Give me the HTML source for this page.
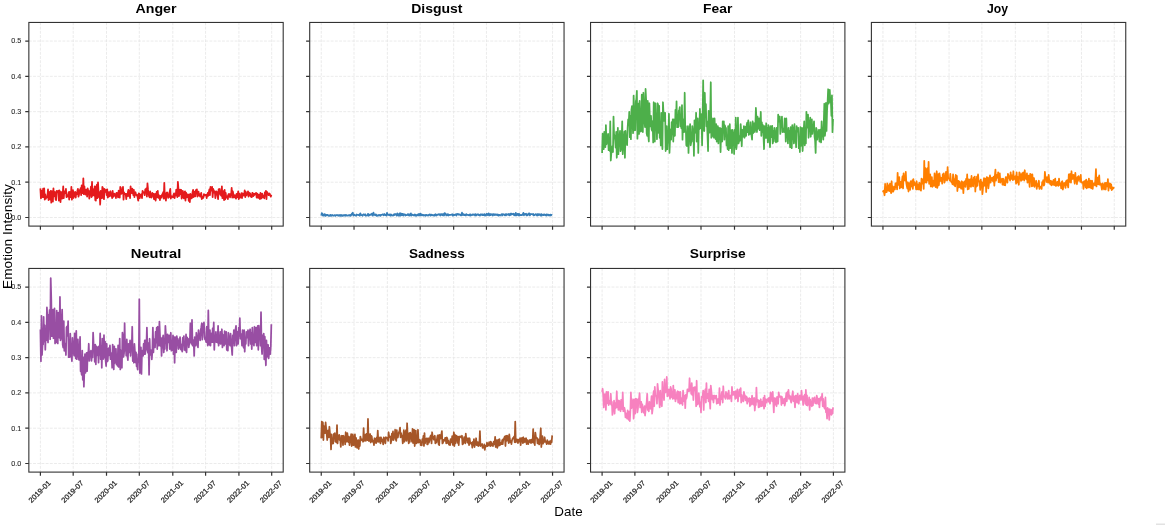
<!DOCTYPE html><html><head><meta charset="utf-8"><style>html,body{margin:0;padding:0;background:#fff;overflow:hidden;}svg{display:block;will-change:transform;}text{font-family:"Liberation Sans",sans-serif;}</style></head><body>
<svg width="1165" height="525" viewBox="0 0 1165 525">
<rect width="1165" height="525" fill="#fff"/>
<path d="M40.4 22.45V226.1M73.18 22.45V226.1M106.51 22.45V226.1M139.3 22.45V226.1M172.8 22.45V226.1M205.59 22.45V226.1M238.92 22.45V226.1M271.7 22.45V226.1M28.85 217.5H283.2M28.85 182.21H283.2M28.85 146.92H283.2M28.85 111.63H283.2M28.85 76.34H283.2M28.85 41.05H283.2" stroke="#e6e6e6" stroke-width="0.8" stroke-dasharray="2.9 1.3" fill="none"/>
<path d="M40.4 188.35 40.94 198.45 41.49 193.05 42.03 190.63 42.57 197.23 43.12 188.58 43.66 197.15 44.2 188.35 44.75 199.65 45.29 194.29 45.83 198.73 46.38 196.69 46.92 197.45 47.46 195.53 48.01 189.35 48.55 200.15 49.09 191.9 49.64 194.42 50.18 199.52 50.72 190.85 51.27 202.65 51.81 191.17 52.35 194.79 52.9 201.65 53.44 188.35 53.98 196.47 54.53 195.23 55.07 191.99 55.61 199.43 56.16 200.15 56.7 190.85 57.24 191.25 57.79 192.12 58.33 190.78 58.88 200.65 59.42 190.35 59.96 192.94 60.51 202.15 61.05 191.85 61.59 198.66 62.14 198.63 62.68 194.92 63.22 186.35 63.77 198.15 64.31 191.28 64.85 192.01 65.4 193.11 65.94 188.85 66.48 197.15 67.03 195.28 67.57 196.48 68.11 195.07 68.66 192.14 69.2 199.65 69.74 191.85 70.29 196.62 70.83 197.18 71.37 186.85 71.92 199.65 72.46 191.44 73 190.05 73.55 198.03 74.09 192.67 74.63 196.02 75.18 191.85 75.72 197.65 76.26 192.99 76.81 194.27 77.35 191.04 77.89 188.85 78.44 196.65 78.98 194.9 79.52 190.12 80.07 191.55 80.61 188.19 81.15 195.15 81.7 185.35 82.24 193.17 82.78 192.29 83.33 178.35 83.87 194.15 84.41 186.33 84.96 193.46 85.5 194.52 86.04 189.69 86.59 189.84 87.13 196.65 87.67 188.35 88.22 190.65 88.76 190.85 89.3 198.65 89.85 193.34 90.39 192.7 90.93 186.55 91.48 197.15 92.02 181.85 92.56 195.79 93.11 189.08 93.65 191.96 94.19 195.5 94.74 186.35 95.28 200.15 95.83 200.65 96.37 186.85 96.91 184.63 97.46 198.15 98 182.35 98.54 192.18 99.09 197.21 99.63 192.47 100.17 204.65 100.72 190.85 101.26 196.32 101.8 198.15 102.35 186.85 102.89 187.99 103.43 197.94 103.98 199.15 104.52 188.85 105.06 191.39 105.61 191.97 106.15 189.96 106.69 195.06 107.24 189.35 107.78 197.65 108.32 196.68 108.87 192.03 109.41 196.32 109.95 193.6 110.5 191.25 111.04 195.92 111.58 193.33 112.13 198.15 112.67 190.85 113.21 196.89 113.76 196.04 114.3 193.66 114.84 193.96 115.39 195.44 115.93 198.15 116.47 192.85 117.02 192.85 117.56 194.2 118.1 197.49 118.65 190.65 119.19 191.5 119.73 197.65 120.28 186.85 120.82 187.76 121.36 193.98 121.91 192.74 122.45 191.76 122.99 186.85 123.54 199.65 124.08 192.43 124.62 194.08 125.17 193.78 125.71 193.88 126.25 199.15 126.8 193.85 127.34 196.16 127.88 192.29 128.43 189.81 128.97 196.3 129.51 190.82 130.06 198.15 130.6 186.35 131.14 191.48 131.69 193.06 132.23 188.58 132.78 190.38 133.32 195.05 133.86 189.85 134.41 197.15 134.95 193.32 135.49 192.28 136.04 194.75 136.58 195.39 137.12 194.83 137.67 197.54 138.21 200.65 138.75 193.35 139.3 193.76 139.84 198.23 140.38 194.74 140.93 194.89 141.47 194.29 142.01 198.15 142.56 190.85 143.1 192.16 143.64 192.07 144.19 193.08 144.73 195.23 145.27 189.41 145.82 192.19 146.36 188.35 146.9 196.65 147.45 183.35 147.99 189.38 148.53 193.65 149.08 196.39 149.62 197.29 150.16 191.27 150.71 194.8 151.25 197.65 151.79 197.15 152.34 192.85 152.88 194.67 153.42 193.83 153.97 199.19 154.51 198.47 155.05 193.85 155.6 200.65 156.14 196.99 156.68 191.96 157.23 197.15 157.77 190.85 158.31 197.9 158.86 195.23 159.4 197.04 159.94 200.15 160.49 195.85 161.03 196.95 161.57 197.69 162.12 194.43 162.66 193.94 163.2 192.17 163.75 198.65 164.29 182.85 164.83 197.54 165.38 197.87 165.92 200.65 166.46 192.85 167.01 192.33 167.55 192.93 168.09 197.89 168.64 197.21 169.18 197.02 169.73 191.35 170.27 188.85 170.81 198.65 171.36 196.09 171.9 196.6 172.44 196.92 172.99 197.47 173.53 194.65 174.07 193.35 174.62 198.15 175.16 194.49 175.7 195.56 176.25 189.69 176.79 192.55 177.33 197.15 177.88 181.85 178.42 188.5 178.96 196.08 179.51 193.2 180.05 189.73 180.59 194.25 181.14 189.85 181.68 198.65 182.22 196.6 182.77 190.9 183.31 195.2 183.85 198.31 184.4 192.34 184.94 191.35 185.48 200.65 186.03 192.71 186.57 193.79 187.11 197.25 187.66 196.56 188.2 194.48 188.74 200.85 189.29 194.67 189.83 202.15 190.37 193.85 190.92 195.66 191.46 198.29 192 197.82 192.55 192.31 193.09 189.85 193.63 197.15 194.18 191.57 194.72 193.29 195.26 196.44 195.81 190.24 196.35 191.69 196.89 189.35 197.44 196.65 197.98 194.01 198.52 191.59 199.07 195.71 199.61 194.18 200.15 196.69 200.7 196.15 201.24 192.85 201.78 199.15 202.33 196.57 202.87 198.08 203.41 197.43 203.96 194.04 204.5 195.52 205.05 194.87 205.59 195.15 206.13 194.85 206.68 198.15 207.22 194.81 207.76 192.93 208.31 195.74 208.85 192.29 209.39 189.48 209.94 195.15 210.48 186.85 211.02 190.61 211.57 189.59 212.11 186.85 212.65 197.15 213.2 188.96 213.74 190.61 214.28 192.63 214.83 191.35 215.37 198.15 215.91 194.35 216.46 191.43 217 192.32 217.54 194.74 218.09 199.15 218.63 189.35 219.17 189.12 219.72 188.97 220.26 194.78 220.8 192.26 221.35 195.8 221.89 186.35 222.43 198.15 222.98 193.36 223.52 191.07 224.06 200.15 224.61 189.85 225.15 199.42 225.69 192.88 226.24 197.74 226.78 197.26 227.32 196.04 227.87 199.15 228.41 194.35 228.95 193.9 229.5 195.01 230.04 197.38 230.58 193.83 231.13 194.5 231.67 187.85 232.21 197.65 232.76 191.28 233.3 193.82 233.84 197.5 234.39 196.35 234.93 195.25 235.47 197.53 236.02 198.65 236.56 193.85 237.1 197.1 237.65 195.5 238.19 191.35 238.73 199.15 239.28 193.63 239.82 197.93 240.36 197.5 240.91 195.84 241.45 193.12 242 198.15 242.54 193.35 243.08 195.17 243.63 195.52 244.17 194.76 244.71 190.35 245.26 197.15 245.8 191.99 246.34 195.33 246.89 194.75 247.43 194.22 247.97 191.35 248.52 196.65 249.06 192.73 249.6 195.11 250.15 193.38 250.69 196.58 251.23 195.44 251.78 197.15 252.32 192.85 252.86 193.18 253.41 196.13 253.95 193.84 254.49 195.03 255.04 193.68 255.58 193.54 256.12 192.85 256.67 197.65 257.21 193.64 257.75 195.11 258.3 197.97 258.84 194.62 259.38 196.15 259.93 199.15 260.47 192.85 261.01 197.22 261.56 198.44 262.1 193.58 262.64 195.59 263.19 197.22 263.73 195.56 264.27 198.37 264.82 192.65 265.36 192.13 265.9 190.85 266.45 199.15 266.99 191.83 267.53 192.94 268.08 193.93 268.62 195.16 269.16 193.45 269.71 193.77 270.25 195.36 270.79 196.65 271.34 194.85" stroke="#e41a1c" stroke-width="1.75" fill="none" stroke-linejoin="round"/>
<rect x="28.85" y="22.45" width="254.35" height="203.65" fill="none" stroke="#333" stroke-width="1.1"/>
<path d="M40.4 226.1v3.6M73.18 226.1v3.6M106.51 226.1v3.6M139.3 226.1v3.6M172.8 226.1v3.6M205.59 226.1v3.6M238.92 226.1v3.6M271.7 226.1v3.6M28.85 217.5h-3.6M28.85 182.21h-3.6M28.85 146.92h-3.6M28.85 111.63h-3.6M28.85 76.34h-3.6M28.85 41.05h-3.6" stroke="#333" stroke-width="1.2" fill="none"/>
<text x="156.03" y="12.75" font-size="12.4" font-weight="bold" text-anchor="middle" textLength="41.0" lengthAdjust="spacingAndGlyphs" fill="#000">Anger</text>
<text x="21.35" y="219.9" font-size="7.3" text-anchor="end" textLength="10.0" lengthAdjust="spacingAndGlyphs" fill="#262626" stroke="#262626" stroke-width="0.08">0.0</text>
<text x="21.35" y="184.61" font-size="7.3" text-anchor="end" textLength="10.0" lengthAdjust="spacingAndGlyphs" fill="#262626" stroke="#262626" stroke-width="0.08">0.1</text>
<text x="21.35" y="149.32" font-size="7.3" text-anchor="end" textLength="10.0" lengthAdjust="spacingAndGlyphs" fill="#262626" stroke="#262626" stroke-width="0.08">0.2</text>
<text x="21.35" y="114.03" font-size="7.3" text-anchor="end" textLength="10.0" lengthAdjust="spacingAndGlyphs" fill="#262626" stroke="#262626" stroke-width="0.08">0.3</text>
<text x="21.35" y="78.74" font-size="7.3" text-anchor="end" textLength="10.0" lengthAdjust="spacingAndGlyphs" fill="#262626" stroke="#262626" stroke-width="0.08">0.4</text>
<text x="21.35" y="43.45" font-size="7.3" text-anchor="end" textLength="10.0" lengthAdjust="spacingAndGlyphs" fill="#262626" stroke="#262626" stroke-width="0.08">0.5</text>
<path d="M321.25 22.45V226.1M354.03 22.45V226.1M387.36 22.45V226.1M420.15 22.45V226.1M453.65 22.45V226.1M486.44 22.45V226.1M519.77 22.45V226.1M552.55 22.45V226.1M309.7 217.5H564.05M309.7 182.21H564.05M309.7 146.92H564.05M309.7 111.63H564.05M309.7 76.34H564.05M309.7 41.05H564.05" stroke="#e6e6e6" stroke-width="0.8" stroke-dasharray="2.9 1.3" fill="none"/>
<path d="M321.25 215.65 321.79 213.15 322.34 213.81 322.88 215.54 323.42 214.58 323.97 215.64 324.51 214.2 325.05 214.35 325.6 215.95 326.14 215.07 326.68 214.91 327.23 214.88 327.77 215.15 328.31 215.74 328.86 215.32 329.4 215.27 329.94 215.95 330.49 214.85 331.03 215.31 331.57 215.73 332.12 214.94 332.66 215.16 333.2 215.81 333.75 215.57 334.29 215.32 334.83 215.05 335.38 215.95 335.92 215.39 336.46 215.19 337.01 215 337.55 215.18 338.09 215.79 338.64 215.3 339.18 214.91 339.73 215.64 340.27 215.95 340.81 214.85 341.36 215.09 341.9 215.9 342.44 215.84 342.99 215.14 343.53 215.65 344.07 214.96 344.62 215.53 345.16 215.85 345.7 214.85 346.25 215.69 346.79 215.25 347.33 215.58 347.88 215.58 348.42 215.37 348.96 215.12 349.51 215.51 350.05 214.85 350.59 215.85 351.14 215.15 351.68 214.06 352.22 213.39 352.77 212.65 353.31 215.65 353.85 214.62 354.4 214.88 354.94 215.19 355.48 215.47 356.03 215.75 356.57 214.45 357.11 214.95 357.66 214.97 358.2 214.95 358.74 215.16 359.29 214.51 359.83 215.75 360.37 213.35 360.92 214.98 361.46 215.02 362 215.04 362.55 215.75 363.09 214.68 363.63 214.34 364.18 214.66 364.72 215.16 365.26 214.35 365.81 215.75 366.35 215.51 366.89 215.49 367.44 215.29 367.98 213.85 368.52 215.75 369.07 214.51 369.61 215.34 370.15 215.02 370.7 214.37 371.24 214.46 371.78 213.71 372.33 215.38 372.87 215.65 373.41 212.55 373.96 214.71 374.5 214.51 375.04 215.36 375.59 214.42 376.13 214.65 376.68 215.75 377.22 215.48 377.76 215.79 378.31 215.34 378.85 214.91 379.39 215.44 379.94 214.85 380.48 215.85 381.02 214.88 381.57 214.78 382.11 214.67 382.65 214.35 383.2 214.78 383.74 215.21 384.28 214 384.83 214.84 385.37 215.18 385.91 214.61 386.46 215.65 387 212.85 387.54 214.43 388.09 214.9 388.63 214.57 389.17 215.39 389.72 214.38 390.26 214.45 390.8 215.75 391.35 214.62 391.89 215.24 392.43 215.34 392.98 215.63 393.52 214.93 394.06 214.23 394.61 214.95 395.15 214.01 395.69 214.26 396.24 214.26 396.78 215.65 397.32 213.45 397.87 214.49 398.41 215.63 398.95 214.15 399.5 215.59 400.04 213.05 400.58 215.65 401.13 215.14 401.67 213.62 402.21 215.19 402.76 213.82 403.3 215.57 403.84 214.38 404.39 214.3 404.93 214.35 405.47 215.55 406.02 214.91 406.56 215.2 407.1 215.11 407.65 214.28 408.19 214.97 408.73 214.28 409.28 215.6 409.82 214.38 410.36 215.31 410.91 213.35 411.45 215.65 411.99 214.81 412.54 214.74 413.08 215.19 413.63 215.39 414.17 215.32 414.71 214.42 415.26 215.51 415.8 214.65 416.34 215.75 416.89 215.61 417.43 214.83 417.97 214.37 418.52 215.39 419.06 213.91 419.6 214.48 420.15 215.55 420.69 213.65 421.23 215.23 421.78 215.36 422.32 214.69 422.86 215.28 423.41 214.91 423.95 215.6 424.49 215.31 425.04 214.85 425.58 215.75 426.12 215.1 426.67 214.88 427.21 215.5 427.75 215.48 428.3 215.56 428.84 214.81 429.38 214.63 429.93 214.45 430.47 215.65 431.01 214.73 431.56 214.73 432.1 215.41 432.64 214.91 433.19 215.22 433.73 215.59 434.27 214.82 434.82 215.65 435.36 214.25 435.9 214.72 436.45 215.57 436.99 214.68 437.53 214.93 438.08 214.4 438.62 214.63 439.16 214.11 439.71 214.76 440.25 215.45 440.79 214.05 441.34 214.81 441.88 214.16 442.42 215.23 442.97 214.04 443.51 214.37 444.05 215.55 444.6 213.05 445.14 213.51 445.68 213.65 446.23 215.37 446.77 215.47 447.31 214.89 447.86 214.05 448.4 215.55 448.94 215.13 449.49 214.85 450.03 214.92 450.58 214.79 451.12 214.76 451.66 214.57 452.21 214.25 452.75 215.65 453.29 214.6 453.84 215.27 454.38 215.06 454.92 214.7 455.47 214.87 456.01 214.25 456.55 215.55 457.1 213.95 457.64 214.1 458.18 213.98 458.73 214.77 459.27 214.62 459.81 214.36 460.36 215.1 460.9 215.31 461.44 215.35 461.99 212.65 462.53 214.71 463.07 215.1 463.62 214.06 464.16 215.15 464.7 215.02 465.25 214.73 465.79 215.45 466.33 214.05 466.88 214.91 467.42 214.81 467.96 215.01 468.51 214.94 469.05 215.29 469.59 215.4 470.14 214.25 470.68 215.55 471.22 215.2 471.77 214.97 472.31 214.41 472.85 215.04 473.4 214.6 473.94 214.44 474.48 214.65 475.03 215.55 475.57 214.05 476.11 215.3 476.66 215.33 477.2 214.33 477.74 214.26 478.29 214.36 478.83 215.14 479.37 215 479.92 215.55 480.46 214.35 481 214.82 481.55 214.62 482.09 214.28 482.63 215.2 483.18 215.23 483.72 214.8 484.26 214.05 484.81 215.55 485.35 215.13 485.9 215.47 486.44 213.89 486.98 213.85 487.53 215.02 488.07 214.89 488.61 213.35 489.16 215.45 489.7 215.29 490.24 214.01 490.79 215.14 491.33 214.68 491.87 214.13 492.42 214.43 492.96 215.55 493.5 214.15 494.05 214.39 494.59 215.06 495.13 214.28 495.68 214.97 496.22 214.98 496.76 214.44 497.31 215.04 497.85 214.35 498.39 215.65 498.94 214.97 499.48 214.84 500.02 215.55 500.57 214.75 501.11 214.74 501.65 214.25 502.2 215.55 502.74 214.15 503.28 214.62 503.83 214.45 504.37 214.92 504.91 215.26 505.46 214.23 506 215.45 506.54 214.05 507.09 214.39 507.63 214.65 508.17 214.77 508.72 213.94 509.26 215.18 509.8 215.35 510.35 213.65 510.89 214.91 511.43 213.64 511.98 214.18 512.52 213.95 513.06 214.32 513.61 213.74 514.15 215.3 514.69 214.47 515.24 215.26 515.78 212.85 516.32 215.35 516.87 215.08 517.41 213.97 517.95 213.97 518.5 215.39 519.04 213.85 519.58 215.45 520.13 214.95 520.67 215.23 521.21 214.98 521.76 215.18 522.3 214.8 522.85 213.94 523.39 212.85 523.93 215.35 524.48 214.39 525.02 213.81 525.56 214.58 526.11 213.65 526.65 215.45 527.19 215.09 527.74 215.26 528.28 213.66 528.82 213.58 529.37 213.35 529.91 215.45 530.45 214.2 531 214.13 531.54 214.04 532.08 214.21 532.63 214.51 533.17 213.85 533.71 215.45 534.26 215.11 534.8 215.02 535.34 214.29 535.89 214.13 536.43 214.74 536.97 215.45 537.52 214.05 538.06 215.3 538.6 214.25 539.15 214.87 539.69 214.25 540.23 215.07 540.78 215.55 541.32 214.05 541.86 215.5 542.41 214.76 542.95 214.63 543.49 215.06 544.04 214.42 544.58 214.64 545.12 215.22 545.67 215.32 546.21 214.35 546.75 215.55 547.3 214.59 547.84 214.5 548.38 214.82 548.93 215.46 549.47 214.93 550.01 215.55 550.56 214.55 551.1 215.24 551.64 214.85 552.19 215.25" stroke="#377eb8" stroke-width="1.75" fill="none" stroke-linejoin="round"/>
<rect x="309.7" y="22.45" width="254.35" height="203.65" fill="none" stroke="#333" stroke-width="1.1"/>
<path d="M321.25 226.1v3.6M354.03 226.1v3.6M387.36 226.1v3.6M420.15 226.1v3.6M453.65 226.1v3.6M486.44 226.1v3.6M519.77 226.1v3.6M552.55 226.1v3.6M309.7 217.5h-3.6M309.7 182.21h-3.6M309.7 146.92h-3.6M309.7 111.63h-3.6M309.7 76.34h-3.6M309.7 41.05h-3.6" stroke="#333" stroke-width="1.2" fill="none"/>
<text x="436.88" y="12.75" font-size="12.4" font-weight="bold" text-anchor="middle" textLength="51.3" lengthAdjust="spacingAndGlyphs" fill="#000">Disgust</text>
<path d="M602.1 22.45V226.1M634.88 22.45V226.1M668.21 22.45V226.1M701 22.45V226.1M734.5 22.45V226.1M767.29 22.45V226.1M800.62 22.45V226.1M833.4 22.45V226.1M590.55 217.5H844.9M590.55 182.21H844.9M590.55 146.92H844.9M590.55 111.63H844.9M590.55 76.34H844.9M590.55 41.05H844.9" stroke="#e6e6e6" stroke-width="0.8" stroke-dasharray="2.9 1.3" fill="none"/>
<path d="M602.1 152.95 602.64 133.75 603.19 136.37 603.73 149.15 604.27 131.85 604.82 144.62 605.36 147.15 605.9 125.15 606.45 144.43 606.99 141.23 607.53 137.63 608.08 133.85 608.62 150.15 609.16 143.47 609.71 150.85 610.25 121.35 610.79 160.55 611.34 153.06 611.88 149.42 612.42 146.15 612.97 152.15 613.51 116.55 614.05 134.25 614.6 136.28 615.14 140.42 615.68 147.72 616.23 131.85 616.77 157.75 617.31 143.98 617.86 127.85 618.4 154.15 618.94 139.94 619.49 136.97 620.03 130.85 620.58 151.15 621.12 149.09 621.66 138.95 622.21 121.35 622.75 154.15 623.29 144.5 623.84 139.47 624.38 131.62 624.92 157.75 625.47 130.85 626.01 142.24 626.55 141.67 627.1 145.15 627.64 127.85 628.18 119.47 628.73 123.25 629.27 111.85 629.81 137.15 630.36 116.05 630.9 139.15 631.44 109.85 631.99 106.04 632.53 120.66 633.07 133.15 633.62 95.65 634.16 112.17 634.7 130.3 635.25 130.15 635.79 101.35 636.33 99.45 636.88 90.85 637.42 138.65 637.96 123.77 638.51 103.54 639.05 133.95 639.59 100.85 640.14 120.46 640.68 131.56 641.22 131.15 641.77 94.65 642.31 115.5 642.85 132.05 643.4 92.75 643.94 106.09 644.48 121.01 645.03 127.15 645.57 88.95 646.11 99.46 646.66 133.33 647.2 135.85 647.74 100.85 648.29 135.24 648.83 141.55 649.37 103.25 649.92 121.1 650.46 126.32 651 115.85 651.55 129.15 652.09 130.59 652.63 121.17 653.18 142.45 653.72 102.25 654.26 119.87 654.81 141.55 655.35 103.25 655.89 123.43 656.44 120.61 656.98 139.15 657.53 103.25 658.07 104.86 658.61 132.77 659.16 105.85 659.7 137.75 660.24 130.43 660.79 145.35 661.33 112.85 661.87 139.46 662.42 149.15 662.96 102.25 663.5 113.24 664.05 120.95 664.59 119.31 665.13 112.75 665.68 151.05 666.22 143.37 666.76 126.05 667.31 149.15 667.85 131.51 668.39 142.56 668.94 113.75 669.48 152.95 670.02 139.57 670.57 129.33 671.11 139.65 671.65 122.25 672.2 134.39 672.74 119.45 673.28 141.55 673.83 119.39 674.37 124.95 674.91 135.85 675.46 109.85 676 123.44 676.54 101.35 677.09 127.15 677.63 125.79 678.17 127.15 678.72 110.85 679.26 110.28 679.8 107.05 680.35 126.15 680.89 125.31 681.43 128.42 681.98 105.15 682.52 139.65 683.06 119.41 683.61 127.04 684.15 132.05 684.69 92.75 685.24 131.59 685.78 126.05 686.32 145.35 686.87 146.11 687.41 138.37 687.95 126.05 688.5 152.95 689.04 133.78 689.58 130.09 690.13 124.15 690.67 145.35 691.21 142.06 691.76 141.55 692.3 126.05 692.84 130.74 693.39 130.22 693.93 155.85 694.48 120.35 695.02 132.77 695.56 130.85 696.11 112.75 696.65 141.55 697.19 138.56 697.74 118.45 698.28 152.95 698.82 125.36 699.37 129.21 699.91 108.95 700.45 128.15 701 117.07 701.54 114.22 702.08 145.35 702.63 119.15 703.17 80.35 703.71 127.3 704.26 131.05 704.8 92.75 705.34 116.84 705.89 104.15 706.43 126.25 706.97 121.45 707.52 135.84 708.06 151.05 708.6 110.85 709.15 120.9 709.69 132.68 710.23 113.75 710.78 82.25 711.32 137.75 711.86 136.54 712.41 132.89 712.95 118.45 713.49 135.85 714.04 137.75 714.58 118.45 715.12 132.36 715.67 139.21 716.21 124.15 716.75 141.55 717.3 136.25 717.84 126.05 718.38 143.45 718.93 128.05 719.47 138.05 720.01 127.95 720.56 152.05 721.1 132.26 721.64 128.66 722.19 141.55 722.73 121.35 723.27 129.43 723.82 121.35 724.36 139.65 724.9 125.39 725.45 127.87 725.99 127.95 726.53 145.35 727.08 138.72 727.62 149.21 728.16 126.05 728.71 150.15 729.25 139.23 729.79 124.15 730.34 148.15 730.88 141.51 731.43 130.03 731.97 152.95 732.51 129.85 733.06 133.95 733.6 133.42 734.14 153.95 734.69 129.85 735.23 147.38 735.77 117.55 736.32 149.15 736.86 144.29 737.4 133.35 737.95 117.55 738.49 143.45 739.03 141.45 739.58 135.98 740.12 140.55 740.66 124.15 741.21 132.2 741.75 146.25 742.29 129.85 742.84 136.75 743.38 133.9 743.92 126.05 744.47 137.75 745.01 135.2 745.55 126.8 746.1 135.85 746.64 125.15 747.18 122.71 747.73 132.23 748.27 120.35 748.81 134.85 749.36 129.29 749.9 133.95 750.44 122.25 750.99 132.14 751.53 135.67 752.07 139.65 752.62 121.35 753.16 133.22 753.7 126.65 754.25 123.25 754.79 132.05 755.33 129.15 755.88 107.95 756.42 118.18 756.96 132.05 757.51 116.55 758.05 128.79 758.59 118.58 759.14 118.45 759.68 130.15 760.22 128.09 760.77 111.85 761.31 135.85 761.85 122.25 762.4 132.05 762.94 125.05 763.48 135.66 764.03 149.15 764.57 126.05 765.11 132.55 765.66 137.87 766.2 123.25 766.75 137.75 767.29 127.85 767.83 142.45 768.38 125.15 768.92 128.72 769.46 137.43 770.01 147.25 770.55 126.05 771.09 137.1 771.64 127.55 772.18 125.85 772.72 143.45 773.27 130.97 773.81 141.55 774.35 127.95 774.9 132.94 775.44 135.72 775.98 142.45 776.53 127.85 777.07 136.28 777.61 141.55 778.16 114.65 778.7 121.53 779.24 117.08 779.79 116.55 780.33 133.95 780.87 120.76 781.42 124.67 781.96 116.55 782.5 132.05 783.05 129.17 783.59 128.38 784.13 132.05 784.68 118.45 785.22 120.73 785.76 141.55 786.31 118.45 786.85 135.18 787.39 134.57 787.94 143.45 788.48 127.95 789.02 137.35 789.57 130.82 790.11 147.25 790.65 127.05 791.2 129.96 791.74 148.15 792.28 125.15 792.83 128.86 793.37 132.2 793.91 143.45 794.46 124.15 795 141.63 795.54 131.7 796.09 147.25 796.63 126.05 797.17 131.65 797.72 131.66 798.26 127.95 798.8 148.15 799.35 137.78 799.89 152.05 800.43 127.05 800.98 145.88 801.52 135.43 802.06 127.95 802.61 151.05 803.15 140.16 803.7 129.94 804.24 121.35 804.78 145.35 805.33 135.75 805.87 143.45 806.41 111.85 806.96 127.53 807.5 125.66 808.04 114.65 808.59 137.75 809.13 125.09 809.67 123.65 810.22 117.55 810.76 136.75 811.3 121.14 811.85 119.45 812.39 133.95 812.93 127.25 813.48 127.93 814.02 121.35 814.56 136.75 815.11 140.45 815.65 152.95 816.19 127.95 816.74 129.85 817.28 139.65 817.82 133.39 818.37 132.71 818.91 129.85 819.45 141.55 820 136.1 820.54 129.69 821.08 142.45 821.63 121.35 822.17 135.02 822.71 133.66 823.26 139.65 823.8 122.25 824.34 103.75 824.89 135.85 825.43 130.83 825.97 102.95 826.52 130.95 827.06 110.09 827.6 101.75 828.15 89.25 828.69 103.55 829.23 98.11 829.78 89.95 830.32 102.05 830.86 100.91 831.41 115.75 831.95 95.35 832.49 132.15 833.04 118.85" stroke="#4daf4a" stroke-width="1.75" fill="none" stroke-linejoin="round"/>
<rect x="590.55" y="22.45" width="254.35" height="203.65" fill="none" stroke="#333" stroke-width="1.1"/>
<path d="M602.1 226.1v3.6M634.88 226.1v3.6M668.21 226.1v3.6M701 226.1v3.6M734.5 226.1v3.6M767.29 226.1v3.6M800.62 226.1v3.6M833.4 226.1v3.6M590.55 217.5h-3.6M590.55 182.21h-3.6M590.55 146.92h-3.6M590.55 111.63h-3.6M590.55 76.34h-3.6M590.55 41.05h-3.6" stroke="#333" stroke-width="1.2" fill="none"/>
<text x="717.73" y="12.75" font-size="12.4" font-weight="bold" text-anchor="middle" textLength="29.2" lengthAdjust="spacingAndGlyphs" fill="#000">Fear</text>
<path d="M882.95 22.45V226.1M915.73 22.45V226.1M949.06 22.45V226.1M981.85 22.45V226.1M1015.35 22.45V226.1M1048.14 22.45V226.1M1081.47 22.45V226.1M1114.25 22.45V226.1M871.4 217.5H1125.75M871.4 182.21H1125.75M871.4 146.92H1125.75M871.4 111.63H1125.75M871.4 76.34H1125.75M871.4 41.05H1125.75" stroke="#e6e6e6" stroke-width="0.8" stroke-dasharray="2.9 1.3" fill="none"/>
<path d="M882.95 192.19 883.49 190.65 884.04 192.65 884.58 195.25 885.12 183.85 885.67 192.26 886.21 188.91 886.75 192.05 887.3 183.35 887.84 185.82 888.38 190.7 888.93 185.45 889.47 191.05 890.01 183.63 890.56 190.5 891.1 193.15 891.64 181.25 892.19 191.71 892.73 186.45 893.27 191.55 893.82 189.25 894.36 186.94 894.9 189.45 895.45 183.35 895.99 187.19 896.53 182.82 897.08 189.45 897.62 172.85 898.16 184.91 898.71 184.65 899.25 177.05 899.79 188.45 900.34 181.77 900.88 182.25 901.43 187.35 901.97 181.01 902.51 176.36 903.06 188.45 903.6 173.35 904.14 180.36 904.69 178.98 905.23 180.55 905.77 171.85 906.32 183.2 906.86 186.23 907.4 188.64 907.95 182.25 908.49 191.55 909.03 184.89 909.58 183.27 910.12 189.95 910.66 181.25 911.21 185.79 911.75 186.51 912.29 180.39 912.84 188.95 913.38 179.15 913.92 185.35 914.47 182.11 915.01 184.1 915.55 184.28 916.1 189.45 916.64 181.25 917.18 189.34 917.73 184.28 918.27 188.86 918.81 189.45 919.36 182.75 919.9 183.44 920.44 190.06 920.99 190.55 921.53 178.55 922.07 182.53 922.62 183.68 923.16 179.15 923.7 188.95 924.25 160.85 924.79 182.65 925.33 168 925.88 172.14 926.42 182.65 926.96 169.65 927.51 168.09 928.05 180.55 928.59 161.85 929.14 183.8 929.68 182.42 930.22 174.45 930.77 186.35 931.31 185.68 931.85 177.05 932.4 186.85 932.94 184.93 933.48 180.74 934.03 185.75 934.57 173.35 935.11 182.52 935.66 187.14 936.2 177.35 936.74 171.25 937.29 187.85 937.83 183.33 938.38 174.25 938.92 185.25 939.46 173.35 940.01 177.24 940.55 181 941.09 177.88 941.64 177.87 942.18 183.75 942.72 174.45 943.27 175.03 943.81 173.35 944.35 182.65 944.9 181.07 945.44 177.51 945.98 171.98 946.53 179.6 947.07 180.55 947.61 167.05 948.16 178.38 948.7 178.41 949.24 178.94 949.79 180.55 950.33 173.85 950.87 181.09 951.42 182.15 951.96 182.54 952.5 184.25 953.05 174.45 953.59 178.52 954.13 185.28 954.68 179.4 955.22 186.35 955.76 174.95 956.31 183.34 956.85 175.95 957.39 191.05 957.94 183.06 958.48 180.85 959.02 187.35 959.57 181.75 960.11 183.98 960.65 187.34 961.2 188.64 961.74 181.25 962.28 188.95 962.83 182.25 963.37 193.15 963.91 183.08 964.46 181.53 965 181.25 965.54 186.85 966.09 178.86 966.63 184.45 967.17 174.45 967.72 189.45 968.26 179.25 968.8 188.95 969.35 179.65 969.89 186.04 970.43 179.34 970.98 186.85 971.52 175.95 972.06 185.62 972.61 179.86 973.15 186.35 973.69 177.55 974.24 178.57 974.78 176.55 975.33 191.55 975.87 179.64 976.41 186.75 976.96 176.71 977.5 185.75 978.04 174.45 978.59 181.22 979.13 180.88 979.67 182.4 980.22 189.95 980.76 179.65 981.3 187.28 981.85 182.25 982.39 194.15 982.93 188.55 983.48 181.94 984.02 178.05 984.56 185.75 985.11 182.06 985.65 178.75 986.19 192.05 986.74 177.05 987.28 185.42 987.82 177.55 988.37 188.45 988.91 183.79 989.45 179.45 990 175.45 990.54 182.65 991.08 177.73 991.63 178.34 992.17 180.55 992.71 177.55 993.26 181.62 993.8 176.55 994.34 185.75 994.89 175.52 995.43 169.65 995.97 180.55 996.52 174.88 997.06 176.27 997.6 177.75 998.15 172.35 998.69 182.15 999.23 175.62 999.78 173.35 1000.32 182.65 1000.86 180.54 1001.41 181.07 1001.95 178.76 1002.49 184.75 1003.04 178.55 1003.58 179.08 1004.12 185.07 1004.67 185.06 1005.21 185.25 1005.75 177.05 1006.3 177.32 1006.84 180.76 1007.38 182.65 1007.93 173.85 1008.47 175.22 1009.01 177.72 1009.56 178.49 1010.1 180.55 1010.64 172.35 1011.19 178.99 1011.73 175.62 1012.28 175.16 1012.82 180.05 1013.36 171.25 1013.91 179.56 1014.45 177.54 1014.99 176.74 1015.54 176.32 1016.08 183.75 1016.62 172.35 1017.17 182.48 1017.71 176.75 1018.25 181.78 1018.8 184.75 1019.34 172.35 1019.88 173.49 1020.43 174.77 1020.97 180.87 1021.51 180.55 1022.06 173.35 1022.6 179.68 1023.14 172.66 1023.69 172.47 1024.23 180.55 1024.77 170.25 1025.32 178.41 1025.86 176.58 1026.4 179.42 1026.95 173.35 1027.49 182.65 1028.03 178.13 1028.58 175.71 1029.12 180.93 1029.66 186.85 1030.21 173.85 1030.75 177.5 1031.29 174.53 1031.84 186.35 1032.38 174.45 1032.92 185.99 1033.47 178.14 1034.01 178.15 1034.55 186.85 1035.1 183.72 1035.64 183.87 1036.18 180.75 1036.73 188.95 1037.27 184.17 1037.81 186.37 1038.36 183.8 1038.9 180.75 1039.44 188.95 1039.99 186.76 1040.53 186.95 1041.07 186.34 1041.62 188.95 1042.16 182.25 1042.7 183.69 1043.25 180.25 1043.79 185.64 1044.33 184.75 1044.88 171.85 1045.42 177.39 1045.96 177.32 1046.51 182 1047.05 177.07 1047.6 181.6 1048.14 182.65 1048.68 174.95 1049.23 180.56 1049.77 182.72 1050.31 184.14 1050.86 180.75 1051.4 185.35 1051.94 181.41 1052.49 184.72 1053.03 184.08 1053.57 179.91 1054.12 185.18 1054.66 181.88 1055.2 178.65 1055.75 185.85 1056.29 185.64 1056.83 183.38 1057.38 181.74 1057.92 185.45 1058.46 185.85 1059.01 178.65 1059.55 184.11 1060.09 184.95 1060.64 183.29 1061.18 188.34 1061.72 182.03 1062.27 181.25 1062.81 189.55 1063.35 186.95 1063.9 183.19 1064.44 184.8 1064.98 182.85 1065.53 187.95 1066.07 181.18 1066.61 185 1067.16 180.19 1067.7 185.03 1068.24 187.45 1068.79 174.45 1069.33 182.06 1069.87 174.21 1070.42 174.19 1070.96 182.65 1071.5 171.25 1072.05 179.15 1072.59 178.78 1073.13 174.81 1073.68 175 1074.22 179.55 1074.76 183.75 1075.31 172.85 1075.85 180.1 1076.39 179.84 1076.94 184.25 1077.48 177.05 1078.02 180.8 1078.57 176.03 1079.11 178.66 1079.65 177.88 1080.2 181.65 1080.74 174.95 1081.28 182.54 1081.83 182.2 1082.37 182.61 1082.91 182.25 1083.46 188.95 1084 181.48 1084.55 184.51 1085.09 180.81 1085.63 187.32 1086.18 179.65 1086.72 188.45 1087.26 181.47 1087.81 182.06 1088.35 187.33 1088.89 178.65 1089.44 187.45 1089.98 182.39 1090.52 180.7 1091.07 188.28 1091.61 188.24 1092.15 180.75 1092.7 188.95 1093.24 183.78 1093.78 183.28 1094.33 183.47 1094.87 185.38 1095.41 179.65 1095.96 169.15 1096.5 186.35 1097.04 177.85 1097.59 184.12 1098.13 177.32 1098.67 184.35 1099.22 175.45 1099.76 184.75 1100.3 183.21 1100.85 184.23 1101.39 186.24 1101.93 189.55 1102.48 183.35 1103.02 185.16 1103.56 187.72 1104.11 189.41 1104.65 183.26 1105.19 182.85 1105.74 189.55 1106.28 182.8 1106.82 186.34 1107.37 186.43 1107.91 179.15 1108.45 190.55 1109 184.25 1109.54 183.38 1110.08 183.57 1110.63 188.4 1111.17 184.35 1111.71 190.05 1112.26 189.41 1112.8 187.32 1113.34 188.45 1113.89 187.05" stroke="#ff7f00" stroke-width="1.75" fill="none" stroke-linejoin="round"/>
<rect x="871.4" y="22.45" width="254.35" height="203.65" fill="none" stroke="#333" stroke-width="1.1"/>
<path d="M882.95 226.1v3.6M915.73 226.1v3.6M949.06 226.1v3.6M981.85 226.1v3.6M1015.35 226.1v3.6M1048.14 226.1v3.6M1081.47 226.1v3.6M1114.25 226.1v3.6M871.4 217.5h-3.6M871.4 182.21h-3.6M871.4 146.92h-3.6M871.4 111.63h-3.6M871.4 76.34h-3.6M871.4 41.05h-3.6" stroke="#333" stroke-width="1.2" fill="none"/>
<text x="997.58" y="12.75" font-size="12.4" font-weight="bold" text-anchor="middle" textLength="21.0" lengthAdjust="spacingAndGlyphs" fill="#000">Joy</text>
<path d="M40.4 268.45V472.1M73.18 268.45V472.1M106.51 268.45V472.1M139.3 268.45V472.1M172.8 268.45V472.1M205.59 268.45V472.1M238.92 268.45V472.1M271.7 268.45V472.1M28.85 463.5H283.2M28.85 428.21H283.2M28.85 392.92H283.2M28.85 357.63H283.2M28.85 322.34H283.2M28.85 287.05H283.2" stroke="#e6e6e6" stroke-width="0.8" stroke-dasharray="2.9 1.3" fill="none"/>
<path d="M40.4 329.45 40.94 361.25 41.49 315.85 42.03 355.05 42.57 344.12 43.12 344.55 43.66 316.85 44.2 341.55 44.75 325.25 45.29 349.75 45.83 331.52 46.38 340.35 46.92 307.45 47.46 321.32 48.01 342.45 48.55 314.75 49.09 318.28 49.64 309.76 50.18 339.25 50.72 278.05 51.27 299.05 51.81 336.15 52.35 314.04 52.9 309.55 53.44 338.25 53.98 312.84 54.53 308.45 55.07 343.45 55.61 328.54 56.16 342.45 56.7 310.55 57.24 329.72 57.79 343.45 58.33 312.65 58.88 326.26 59.42 337.78 59.96 296.95 60.51 340.35 61.05 338.05 61.59 324.13 62.14 309.55 62.68 344.55 63.22 347.67 63.77 321.05 64.31 350.85 64.85 348.38 65.4 343.41 65.94 355.05 66.48 327.35 67.03 326.46 67.57 335.93 68.11 321.05 68.66 357.15 69.2 354.29 69.74 357.15 70.29 333.65 70.83 352.8 71.37 354.86 71.92 361.25 72.46 337.85 73 345.56 73.55 351.27 74.09 355.75 74.63 333.45 75.18 346.29 75.72 358.49 76.26 330.85 76.81 359.15 77.35 344.82 77.89 339.45 78.44 355.75 78.98 359.94 79.52 352.36 80.07 336.85 80.61 371.15 81.15 370.75 81.7 374.87 82.24 350.55 82.78 379.75 83.33 357.45 83.87 386.65 84.41 369.47 84.96 354.05 85.5 372.95 86.04 360.3 86.59 352.76 87.13 371.15 87.67 352.35 88.22 355.89 88.76 343.75 89.3 360.85 89.85 352.06 90.39 353.62 90.93 350.55 91.48 360.85 92.02 352.76 92.56 357.45 93.11 332.55 93.65 345.34 94.19 345.1 94.74 361.75 95.28 344.55 95.83 364.35 96.37 346.35 96.91 354.63 97.46 355.42 98 347.15 98.54 362.65 99.09 346.04 99.63 354.78 100.17 333.45 100.72 359.15 101.26 345.89 101.8 367.75 102.35 338.55 102.89 347.88 103.43 359.08 103.98 335.15 104.52 357.45 105.06 341.62 105.61 360.61 106.15 366.05 106.69 343.75 107.24 361.61 107.78 360.85 108.32 348.85 108.87 348.15 109.41 355.46 109.95 345.45 110.5 359.15 111.04 356.77 111.58 353.18 112.13 367.75 112.67 344.55 113.21 356.67 113.76 369.45 114.3 346.35 114.84 363.02 115.39 355.4 115.93 348.85 116.47 364.35 117.02 361.9 117.56 365.84 118.1 345.45 118.65 366.95 119.19 364.62 119.73 338.55 120.28 369.45 120.82 350.31 121.36 350.97 121.91 367.75 122.45 332.55 122.99 337.5 123.54 356.99 124.08 353 124.62 323.15 125.17 350.65 125.71 345.72 126.25 355.75 126.8 339.45 127.34 353.31 127.88 360.15 128.43 343.85 128.97 347.01 129.51 352.44 130.06 340.45 130.6 355.85 131.14 346.38 131.69 350.01 132.23 326.75 132.78 361.05 133.32 348.69 133.86 362.75 134.41 343.85 134.95 351.73 135.49 362.51 136.04 352.45 136.58 366.15 137.12 365.77 137.67 369.65 138.21 354.15 138.75 361.79 139.3 299.25 139.84 373.05 140.38 363.45 140.93 347.35 141.47 373.95 142.01 351.56 142.56 350.66 143.1 355.85 143.64 343.85 144.19 354.24 144.73 340.45 145.27 354.15 145.82 340.13 146.36 349.5 146.9 327.55 147.45 350.75 147.99 352.84 148.53 343.01 149.08 374.75 149.62 338.75 150.16 354.81 150.71 349.93 151.25 350.75 151.79 359.35 152.34 351.59 152.88 327.55 153.42 352.45 153.97 339.13 154.51 345.2 155.05 347.35 155.6 331.85 156.14 342.58 156.68 327.67 157.23 349.05 157.77 326.75 158.31 332.1 158.86 345.65 159.4 321.55 159.94 334.09 160.49 345.91 161.03 338.75 161.57 355.85 162.12 337.51 162.66 347.55 163.2 335.35 163.75 352.45 164.29 344.85 164.83 349.05 165.38 325.85 165.92 335.1 166.46 337.05 167.01 350.75 167.55 334.45 168.09 338.95 168.64 342.3 169.18 335.35 169.73 349.05 170.27 343.58 170.81 332.75 171.36 350.75 171.9 344.81 172.44 350.2 172.99 335.35 173.53 354.15 174.07 337.07 174.62 362.75 175.16 337.05 175.7 339.66 176.25 352.45 176.79 336.15 177.33 343.14 177.88 338.75 178.42 349.05 178.96 346.46 179.51 342.56 180.05 337.05 180.59 349.05 181.14 349.8 181.68 344.41 182.22 351.65 182.77 337.85 183.31 340.08 183.85 336.15 184.4 349.85 184.94 347.28 185.48 350.67 186.03 334.45 186.57 352.45 187.11 337.32 187.66 341.8 188.2 338.75 188.74 347.35 189.29 343.31 189.83 341.35 190.37 323.25 190.92 340.56 191.46 343.85 192 319.85 192.55 345.59 193.09 342.58 193.63 340.02 194.18 355.85 194.72 337.05 195.26 344.38 195.81 345.65 196.35 332.75 196.89 338.24 197.44 342.92 197.98 347.35 198.52 330.15 199.07 337.6 199.61 334.1 200.15 340.45 200.7 330.15 201.24 327.16 201.78 323.25 202.33 339.65 202.87 324.02 203.41 324.22 203.96 322.45 204.5 337.05 205.05 339.54 205.59 339.84 206.13 342.15 206.68 326.75 207.22 338.53 207.76 345.65 208.31 310.45 208.85 338.95 209.39 344.94 209.94 330.15 210.48 345.65 211.02 335.37 211.57 333.52 212.11 342.15 212.65 328.45 213.2 342.09 213.74 322.45 214.28 349.85 214.83 335.86 215.37 341.87 215.91 331.85 216.46 342.15 217 336.26 217.54 342.68 218.09 325.85 218.63 345.65 219.17 341.85 219.72 343.06 220.26 331.85 220.8 343.85 221.35 335.56 221.89 329.25 222.43 347.35 222.98 334.75 223.52 339.5 224.06 345.65 224.61 331.05 225.15 338.91 225.69 344.01 226.24 331.85 226.78 349.85 227.32 344.06 227.87 350.75 228.41 332.75 228.95 338.11 229.5 343.62 230.04 345.65 230.58 333.55 231.13 343.19 231.67 348 232.21 355.05 232.76 335.35 233.3 342.99 233.84 330.15 234.39 345.65 234.93 334.84 235.47 329.72 236.02 325.85 236.56 345.65 237.1 335.41 237.65 331.6 238.19 343.85 238.73 327.55 239.28 335.84 239.82 318.15 240.36 338.75 240.91 333.78 241.45 335.5 242 345.65 242.54 330.15 243.08 342.21 243.63 347.77 244.17 330.15 244.71 351.65 245.26 339.86 245.8 343.85 246.34 331.85 246.89 335.94 247.43 337.52 247.97 330.15 248.52 345.65 249.06 332.43 249.6 331.58 250.15 329.25 250.69 343.85 251.23 333.21 251.78 349.05 252.32 327.55 252.86 343.92 253.41 334.66 253.95 345.65 254.49 326.75 255.04 328.3 255.58 342.47 256.12 327.55 256.67 345.65 257.21 332.28 257.75 325.85 258.3 349.85 258.84 325.7 259.38 339.08 259.93 329.39 260.47 345.65 261.01 312.15 261.56 346.35 262.1 354.15 262.64 335.35 263.19 344.71 263.73 333.55 264.27 359.35 264.82 336.7 265.36 352.65 265.9 365.35 266.45 340.45 266.99 356.85 267.53 356.76 268.08 344.75 268.62 358.45 269.16 352.85 269.71 347.76 270.25 354.15 270.79 346.45 271.34 324.15" stroke="#984ea3" stroke-width="1.75" fill="none" stroke-linejoin="round"/>
<rect x="28.85" y="268.45" width="254.35" height="203.65" fill="none" stroke="#333" stroke-width="1.1"/>
<path d="M40.4 472.1v3.6M73.18 472.1v3.6M106.51 472.1v3.6M139.3 472.1v3.6M172.8 472.1v3.6M205.59 472.1v3.6M238.92 472.1v3.6M271.7 472.1v3.6M28.85 463.5h-3.6M28.85 428.21h-3.6M28.85 392.92h-3.6M28.85 357.63h-3.6M28.85 322.34h-3.6M28.85 287.05h-3.6" stroke="#333" stroke-width="1.2" fill="none"/>
<text x="156.03" y="258.4" font-size="12.4" font-weight="bold" text-anchor="middle" textLength="50.4" lengthAdjust="spacingAndGlyphs" fill="#000">Neutral</text>
<text x="21.35" y="465.9" font-size="7.3" text-anchor="end" textLength="10.0" lengthAdjust="spacingAndGlyphs" fill="#262626" stroke="#262626" stroke-width="0.08">0.0</text>
<text x="21.35" y="430.61" font-size="7.3" text-anchor="end" textLength="10.0" lengthAdjust="spacingAndGlyphs" fill="#262626" stroke="#262626" stroke-width="0.08">0.1</text>
<text x="21.35" y="395.32" font-size="7.3" text-anchor="end" textLength="10.0" lengthAdjust="spacingAndGlyphs" fill="#262626" stroke="#262626" stroke-width="0.08">0.2</text>
<text x="21.35" y="360.03" font-size="7.3" text-anchor="end" textLength="10.0" lengthAdjust="spacingAndGlyphs" fill="#262626" stroke="#262626" stroke-width="0.08">0.3</text>
<text x="21.35" y="324.74" font-size="7.3" text-anchor="end" textLength="10.0" lengthAdjust="spacingAndGlyphs" fill="#262626" stroke="#262626" stroke-width="0.08">0.4</text>
<text x="21.35" y="289.45" font-size="7.3" text-anchor="end" textLength="10.0" lengthAdjust="spacingAndGlyphs" fill="#262626" stroke="#262626" stroke-width="0.08">0.5</text>
<text transform="translate(39.6 491.7) rotate(-45)" x="0" y="2.5" font-size="7.3" text-anchor="middle" textLength="28.0" lengthAdjust="spacingAndGlyphs" fill="#262626" stroke="#262626" stroke-width="0.25">2019-01</text>
<text transform="translate(72.38 491.7) rotate(-45)" x="0" y="2.5" font-size="7.3" text-anchor="middle" textLength="28.0" lengthAdjust="spacingAndGlyphs" fill="#262626" stroke="#262626" stroke-width="0.25">2019-07</text>
<text transform="translate(105.71 491.7) rotate(-45)" x="0" y="2.5" font-size="7.3" text-anchor="middle" textLength="28.0" lengthAdjust="spacingAndGlyphs" fill="#262626" stroke="#262626" stroke-width="0.25">2020-01</text>
<text transform="translate(138.5 491.7) rotate(-45)" x="0" y="2.5" font-size="7.3" text-anchor="middle" textLength="28.0" lengthAdjust="spacingAndGlyphs" fill="#262626" stroke="#262626" stroke-width="0.25">2020-07</text>
<text transform="translate(172 491.7) rotate(-45)" x="0" y="2.5" font-size="7.3" text-anchor="middle" textLength="28.0" lengthAdjust="spacingAndGlyphs" fill="#262626" stroke="#262626" stroke-width="0.25">2021-01</text>
<text transform="translate(204.79 491.7) rotate(-45)" x="0" y="2.5" font-size="7.3" text-anchor="middle" textLength="28.0" lengthAdjust="spacingAndGlyphs" fill="#262626" stroke="#262626" stroke-width="0.25">2021-07</text>
<text transform="translate(238.12 491.7) rotate(-45)" x="0" y="2.5" font-size="7.3" text-anchor="middle" textLength="28.0" lengthAdjust="spacingAndGlyphs" fill="#262626" stroke="#262626" stroke-width="0.25">2022-01</text>
<text transform="translate(270.9 491.7) rotate(-45)" x="0" y="2.5" font-size="7.3" text-anchor="middle" textLength="28.0" lengthAdjust="spacingAndGlyphs" fill="#262626" stroke="#262626" stroke-width="0.25">2022-07</text>
<path d="M321.25 268.45V472.1M354.03 268.45V472.1M387.36 268.45V472.1M420.15 268.45V472.1M453.65 268.45V472.1M486.44 268.45V472.1M519.77 268.45V472.1M552.55 268.45V472.1M309.7 463.5H564.05M309.7 428.21H564.05M309.7 392.92H564.05M309.7 357.63H564.05M309.7 322.34H564.05M309.7 287.05H564.05" stroke="#e6e6e6" stroke-width="0.8" stroke-dasharray="2.9 1.3" fill="none"/>
<path d="M321.25 438.35 321.79 421.55 322.34 437.17 322.88 422.45 323.42 440.05 323.97 426.23 324.51 431.21 325.05 433.15 325.6 422.45 326.14 428.17 326.68 433.97 327.23 440.05 327.77 430.55 328.31 430.39 328.86 437.45 329.4 426.75 329.94 433.35 330.49 435.26 331.03 449.45 331.57 434.45 332.12 443.74 332.66 443.26 333.2 443.45 333.75 434.05 334.29 433.57 334.83 433.15 335.38 441.75 335.92 440.25 336.46 442.34 337.01 425.05 337.55 443.45 338.09 437.94 338.64 437.59 339.18 434.85 339.73 440.05 340.27 438.91 340.81 446.85 341.36 435.75 341.9 440.8 342.44 435.95 342.99 445.15 343.53 435.75 344.07 438.11 344.62 437.95 345.16 444.35 345.7 432.25 346.25 437.28 346.79 441.75 347.33 433.15 347.88 438.21 348.42 442.05 348.96 436.55 349.51 445.15 350.05 439.9 350.59 439.3 351.14 434.05 351.68 446.05 352.22 437.12 352.77 434.45 353.31 445.15 353.85 445.14 354.4 436.91 354.94 434.45 355.48 446.85 356.03 437.9 356.57 440.79 357.11 447.87 357.66 441.86 358.2 440.05 358.74 449.05 359.29 440.62 359.83 446.05 360.37 436.55 360.92 439.21 361.46 439.65 362 440.37 362.55 439.05 363.09 441.75 363.63 428.05 364.18 440.98 364.72 436.13 365.26 434.85 365.81 440.85 366.35 433.8 366.89 437.76 367.44 440.05 367.98 418.95 368.52 440.59 369.07 441.04 369.61 434.65 370.15 434.05 370.7 442.55 371.24 435.78 371.78 436.55 372.33 441.75 372.87 440.84 373.41 440.6 373.96 445.15 374.5 438.25 375.04 442.66 375.59 438.92 376.13 443.05 376.68 437.45 377.22 441.63 377.76 430.55 378.31 441.75 378.85 441.84 379.39 440.9 379.94 437.45 380.48 443.45 381.02 437.48 381.57 441.32 382.11 439.41 382.65 440.57 383.2 444.35 383.74 437.45 384.28 441.53 384.83 438.25 385.37 443.45 385.91 437.06 386.46 438.32 387 438.09 387.54 437.81 388.09 440.85 388.63 432.25 389.17 437.12 389.72 437.2 390.26 436.55 390.8 443.45 391.35 440.62 391.89 433.51 392.43 439.76 392.98 431.45 393.52 440.05 394.06 436.95 394.61 437.41 395.15 429.75 395.69 439.15 396.24 440.85 396.78 430.15 397.32 437 397.87 437.45 398.41 434.05 398.95 432.3 399.5 430.89 400.04 427.55 400.58 437.45 401.13 433.17 401.67 436.59 402.21 435.75 402.76 443.45 403.3 435.98 403.84 430.15 404.39 441.75 404.93 439.2 405.47 432.39 406.02 430.12 406.56 440.85 407.1 423.25 407.65 436.42 408.19 437.46 408.73 443.45 409.28 433.15 409.82 441.89 410.36 432.63 410.91 434.82 411.45 435.97 411.99 441.75 412.54 428.85 413.08 443.05 413.63 442.37 414.17 429.75 414.71 446.05 415.26 433.83 415.8 430.55 416.34 443.45 416.89 438.29 417.43 442.54 417.97 429.75 418.52 442.55 419.06 439.48 419.6 442.08 420.15 440.05 420.69 445.15 421.23 445.21 421.78 445.29 422.32 439.2 422.86 442.15 423.41 435.79 423.95 446.05 424.49 433.15 425.04 443.37 425.58 438.88 426.12 440.07 426.67 438.31 427.21 444.46 427.75 444.35 428.3 438.25 428.84 442.69 429.38 441.2 429.93 438.07 430.47 436.25 431.01 435.31 431.56 443.45 432.1 432.25 432.64 436.08 433.19 436.98 433.73 439.61 434.27 438.21 434.82 435.75 435.36 443.45 435.9 440.6 436.45 442.53 436.99 438.84 437.53 435.73 438.08 435.15 438.62 444.31 439.16 445.15 439.71 434.85 440.25 437.42 440.79 438.54 441.34 434.33 441.88 431.05 442.42 443.45 442.97 442.9 443.51 439.89 444.05 440.21 444.6 440.71 445.14 437.8 445.68 437.92 446.23 443.45 446.77 437.45 447.31 438.39 447.86 443.14 448.4 440.49 448.94 444.63 449.49 444.13 450.03 445.15 450.58 439.15 451.12 442.43 451.66 442.06 452.21 436.1 452.75 444.99 453.29 441.73 453.84 432.25 454.38 446.05 454.92 434.68 455.47 443.31 456.01 436.33 456.55 435.69 457.1 438.73 457.64 442.88 458.18 436.55 458.73 445.15 459.27 437.35 459.81 436.46 460.36 436.45 460.9 437.03 461.44 437.56 461.99 435.75 462.53 444.35 463.07 443.91 463.62 440.97 464.16 437.15 464.7 440.16 465.25 443.45 465.79 433.55 466.33 439.26 466.88 438.22 467.42 442.61 467.96 438.45 468.51 438.36 469.05 445.15 469.59 438.25 470.14 442.09 470.68 443.45 471.22 443.78 471.77 442.55 472.31 447.75 472.85 441.96 473.4 445.02 473.94 439.15 474.48 447.05 475.03 444.24 475.57 442.99 476.11 438.25 476.66 445.15 477.2 443.13 477.74 442.05 478.29 446.05 478.83 444.99 479.37 444.14 479.92 431.05 480.46 446.05 481 445.02 481.55 444.68 482.09 443.95 482.63 447.95 483.18 446.27 483.72 447.48 484.26 444.45 484.81 449.85 485.35 445.87 485.9 446.48 486.44 446.13 486.98 442.55 487.53 446.05 488.07 445.54 488.61 445.07 489.16 442.06 489.7 442.89 490.24 446.05 490.79 441.55 491.33 443.1 491.87 445.58 492.42 443.8 492.96 446.05 493.5 442.05 494.05 441.42 494.59 444.39 495.13 436.85 495.68 447.05 496.22 445.63 496.76 440.15 497.31 447.95 497.85 442.37 498.39 439.75 498.94 445.74 499.48 439.15 500.02 445.15 500.57 443.06 501.11 442.58 501.65 444.09 502.2 440.15 502.74 444.15 503.28 439.19 503.83 439.41 504.37 437.44 504.91 436.35 505.46 446.05 506 435.96 506.54 440.81 507.09 435.7 507.63 436.13 508.17 440.21 508.72 443.15 509.26 434.45 509.8 439.01 510.35 442.07 510.89 441.05 511.43 444.15 511.98 440.45 512.52 438.84 513.06 437.83 513.61 438.3 514.15 436.35 514.69 442.25 515.24 421.55 515.78 442.25 516.32 439.15 516.87 440.62 517.41 439.56 517.95 443.15 518.5 440.15 519.04 439.4 519.58 441.73 520.13 438.25 520.67 445.15 521.21 438.11 521.76 439.49 522.3 438.02 522.85 443.15 523.39 437.25 523.93 442.33 524.48 438.93 525.02 441.97 525.56 438.6 526.11 438.25 526.65 444.15 527.19 440.35 527.74 440.15 528.28 444.15 528.82 441.44 529.37 442.06 529.91 439.97 530.45 440.04 531 443.15 531.54 439.65 532.08 441.73 532.63 442.25 533.17 429.15 533.71 442.67 534.26 442.01 534.8 445.15 535.34 432.55 535.89 436.8 536.43 437.98 536.97 437.89 537.52 443.33 538.06 439.15 538.6 443.15 539.15 444.45 539.69 442.11 540.23 436.07 540.78 428.25 541.32 447.05 541.86 439.82 542.41 436.12 542.95 443.64 543.49 441.71 544.04 442.25 544.58 437.25 545.12 440.71 545.67 441.74 546.21 442.56 546.75 444.15 547.3 440.15 547.84 442.23 548.38 443.24 548.93 444.1 549.47 441.33 550.01 441.55 550.56 444.15 551.1 440.33 551.64 442.25 552.19 435.35" stroke="#a65628" stroke-width="1.75" fill="none" stroke-linejoin="round"/>
<rect x="309.7" y="268.45" width="254.35" height="203.65" fill="none" stroke="#333" stroke-width="1.1"/>
<path d="M321.25 472.1v3.6M354.03 472.1v3.6M387.36 472.1v3.6M420.15 472.1v3.6M453.65 472.1v3.6M486.44 472.1v3.6M519.77 472.1v3.6M552.55 472.1v3.6M309.7 463.5h-3.6M309.7 428.21h-3.6M309.7 392.92h-3.6M309.7 357.63h-3.6M309.7 322.34h-3.6M309.7 287.05h-3.6" stroke="#333" stroke-width="1.2" fill="none"/>
<text x="436.88" y="258.4" font-size="12.4" font-weight="bold" text-anchor="middle" textLength="55.6" lengthAdjust="spacingAndGlyphs" fill="#000">Sadness</text>
<text transform="translate(320.45 491.7) rotate(-45)" x="0" y="2.5" font-size="7.3" text-anchor="middle" textLength="28.0" lengthAdjust="spacingAndGlyphs" fill="#262626" stroke="#262626" stroke-width="0.25">2019-01</text>
<text transform="translate(353.23 491.7) rotate(-45)" x="0" y="2.5" font-size="7.3" text-anchor="middle" textLength="28.0" lengthAdjust="spacingAndGlyphs" fill="#262626" stroke="#262626" stroke-width="0.25">2019-07</text>
<text transform="translate(386.56 491.7) rotate(-45)" x="0" y="2.5" font-size="7.3" text-anchor="middle" textLength="28.0" lengthAdjust="spacingAndGlyphs" fill="#262626" stroke="#262626" stroke-width="0.25">2020-01</text>
<text transform="translate(419.35 491.7) rotate(-45)" x="0" y="2.5" font-size="7.3" text-anchor="middle" textLength="28.0" lengthAdjust="spacingAndGlyphs" fill="#262626" stroke="#262626" stroke-width="0.25">2020-07</text>
<text transform="translate(452.85 491.7) rotate(-45)" x="0" y="2.5" font-size="7.3" text-anchor="middle" textLength="28.0" lengthAdjust="spacingAndGlyphs" fill="#262626" stroke="#262626" stroke-width="0.25">2021-01</text>
<text transform="translate(485.64 491.7) rotate(-45)" x="0" y="2.5" font-size="7.3" text-anchor="middle" textLength="28.0" lengthAdjust="spacingAndGlyphs" fill="#262626" stroke="#262626" stroke-width="0.25">2021-07</text>
<text transform="translate(518.97 491.7) rotate(-45)" x="0" y="2.5" font-size="7.3" text-anchor="middle" textLength="28.0" lengthAdjust="spacingAndGlyphs" fill="#262626" stroke="#262626" stroke-width="0.25">2022-01</text>
<text transform="translate(551.75 491.7) rotate(-45)" x="0" y="2.5" font-size="7.3" text-anchor="middle" textLength="28.0" lengthAdjust="spacingAndGlyphs" fill="#262626" stroke="#262626" stroke-width="0.25">2022-07</text>
<path d="M602.1 268.45V472.1M634.88 268.45V472.1M668.21 268.45V472.1M701 268.45V472.1M734.5 268.45V472.1M767.29 268.45V472.1M800.62 268.45V472.1M833.4 268.45V472.1M590.55 463.5H844.9M590.55 428.21H844.9M590.55 392.92H844.9M590.55 357.63H844.9M590.55 322.34H844.9M590.55 287.05H844.9" stroke="#e6e6e6" stroke-width="0.8" stroke-dasharray="2.9 1.3" fill="none"/>
<path d="M602.1 391.84 602.64 388.75 603.19 395.15 603.73 407.45 604.27 395.55 604.82 394.08 605.36 399.69 605.9 409.95 606.45 391.85 606.99 403.4 607.53 394.55 608.08 391.85 608.62 405.05 609.16 400.5 609.71 401.08 610.25 403.75 610.79 393.75 611.34 404.95 611.88 401.75 612.42 414.95 612.97 408.31 613.51 409.57 614.05 400.55 614.6 413.65 615.14 403.01 615.68 408.13 616.23 404.66 616.77 391.25 617.31 407.45 617.86 400.28 618.4 409.95 618.94 400.55 619.49 401.42 620.03 409.64 620.58 411.25 621.12 399.85 621.66 399.87 622.21 409.23 622.75 392.45 623.29 411.25 623.84 407.49 624.38 407.75 624.92 410.45 625.47 417.45 626.01 413.33 626.55 416.08 627.1 418.65 627.64 410.45 628.18 416.01 628.73 419.8 629.27 411.65 629.81 421.15 630.36 411.25 630.9 392.45 631.44 408.25 631.99 407.03 632.53 403.44 633.07 399.25 633.62 418.65 634.16 411.78 634.7 399.45 635.25 413.65 635.79 398.65 636.33 406.59 636.88 399.25 637.42 412.45 637.96 408.61 638.51 398.79 639.05 398.79 639.59 393.05 640.14 407.45 640.68 403.69 641.22 401.79 641.77 412.45 642.31 404.25 642.85 410.92 643.4 407.89 643.94 412.94 644.48 406.05 645.03 415.55 645.57 410.77 646.11 405.86 646.66 402.09 647.2 393.75 647.74 409.95 648.29 410.19 648.83 411.25 649.37 401.75 649.92 403.1 650.46 408.78 651 403.52 651.55 396.15 652.09 413.65 652.63 409.07 653.18 395.87 653.72 391.05 654.26 406.25 654.81 386.95 655.35 395.42 655.89 395.81 656.44 396.54 656.98 403.75 657.53 383.85 658.07 389.59 658.61 393.44 659.16 400.38 659.7 407.45 660.24 390.65 660.79 402.24 661.33 403.99 661.87 406.25 662.42 381.95 662.96 395.63 663.5 394.65 664.05 400.05 664.59 379.45 665.13 392.73 665.68 385.41 666.22 391.93 666.76 376.95 667.31 396.35 667.85 389.84 668.39 395.56 668.94 389.41 669.48 391.17 670.02 398.85 670.57 386.95 671.11 389.08 671.65 397.11 672.2 395.56 672.74 398.85 673.28 385.65 673.83 397.14 674.37 398.53 674.91 389.95 675.46 401.35 676 396.51 676.54 398.55 677.09 392.16 677.63 391.25 678.17 402.55 678.72 391.81 679.26 401.07 679.8 403.75 680.35 391.85 680.89 403.32 681.43 402.91 681.98 398.06 682.52 405.05 683.06 390.65 683.61 398.29 684.15 401.24 684.69 395.55 685.24 408.15 685.78 394.95 686.32 398.69 686.87 396.35 687.41 389.35 687.95 389.38 688.5 391.17 689.04 391.35 689.58 378.25 690.13 389.94 690.67 386.91 691.21 393.85 691.76 383.15 692.3 394.89 692.84 388.15 693.39 400.05 693.93 387.62 694.48 387.29 695.02 390.37 695.56 387.06 696.11 406.25 696.65 380.75 697.19 404.66 697.74 401.64 698.28 403.75 698.82 393.05 699.37 401.93 699.91 406.84 700.45 402.35 701 412.45 701.54 396.85 702.08 396.88 702.63 396.45 703.17 390.65 703.71 409.95 704.26 391.6 704.8 397.98 705.34 389.42 705.89 402.55 706.43 383.15 706.97 398.15 707.52 397.54 708.06 393.78 708.6 401.35 709.15 389.35 709.69 399.69 710.23 408.75 710.78 385.65 711.32 390.56 711.86 397.47 712.41 399.69 712.95 395.55 713.49 402.55 714.04 395.6 714.58 395.69 715.12 398.22 715.67 398.61 716.21 395.55 716.75 403.75 717.3 399.62 717.84 403.15 718.38 398.54 718.93 402.94 719.47 388.15 720.01 405.05 720.56 397.64 721.1 399.08 721.64 393.38 722.19 391.62 722.73 402.55 723.27 386.25 723.82 395.48 724.36 396.69 724.9 397.05 725.45 398.85 725.99 391.85 726.53 396.56 727.08 393.93 727.62 398.83 728.16 392.87 728.71 390.65 729.25 398.85 729.79 396.63 730.34 395.53 730.88 395.4 731.43 401.35 731.97 386.95 732.51 394.21 733.06 394.81 733.6 391.91 734.14 394.59 734.69 391.85 735.23 398.85 735.77 391.03 736.32 391.56 736.86 398.04 737.4 389.35 737.95 401.35 738.49 393.84 739.03 393.77 739.58 389.54 740.12 396.36 740.66 388.15 741.21 402.55 741.75 394.96 742.29 397.91 742.84 400.72 743.38 401.35 743.92 391.85 744.47 394.61 745.01 395.86 745.55 400.27 746.1 396.37 746.64 396.85 747.18 403.75 747.73 398.4 748.27 400.72 748.81 401.58 749.36 398.05 749.9 406.25 750.44 398.91 750.99 404.75 751.53 401.54 752.07 395.55 752.62 403.75 753.16 404.47 753.7 398.5 754.25 398.05 754.79 410.55 755.33 403.17 755.88 405.05 756.42 387.55 756.96 401.51 757.51 401.43 758.05 399.96 758.59 407.45 759.14 400.55 759.68 406.77 760.22 403.8 760.77 399.25 761.31 406.25 761.85 405.29 762.4 401.58 762.94 405.93 763.48 397.88 764.03 408.75 764.57 395.55 765.11 406.38 765.66 399.35 766.2 401.7 766.75 402.55 767.29 399.25 767.83 399.86 768.38 398.27 768.92 401.77 769.46 397.67 770.01 403.75 770.55 392.45 771.09 393.71 771.64 397.97 772.18 401.25 772.72 391.85 773.27 402.54 773.81 412.45 774.35 398.05 774.9 398.11 775.44 404.74 775.98 398.6 776.53 406.25 777.07 396.85 777.61 403.51 778.16 403.75 778.7 392.45 779.24 395.87 779.79 396.99 780.33 396.93 780.87 396.15 781.42 405.05 781.96 396.97 782.5 402.24 783.05 403.21 783.59 401.33 784.13 398.65 784.68 405.65 785.22 403 785.76 398.56 786.31 393.05 786.85 401.25 787.39 392.09 787.94 395.38 788.48 389.95 789.02 398.85 789.57 395.38 790.11 396.44 790.65 400.25 791.2 402.55 791.74 397.45 792.28 394.8 792.83 391.25 793.37 401.25 793.91 396.48 794.46 399.03 795 407.45 795.54 395.55 796.09 395.67 796.63 401.22 797.17 402.55 797.72 393.75 798.26 402.43 798.8 403.75 799.35 396.75 799.89 395.45 800.43 397.42 800.98 400.05 801.52 390.65 802.06 397.7 802.61 396.48 803.15 405.05 803.7 396.15 804.24 397.34 804.78 394.54 805.33 403.85 805.87 389.95 806.41 405.05 806.96 395.28 807.5 405.52 808.04 402.63 808.59 404 809.13 397.45 809.67 409.95 810.22 399.61 810.76 404.5 811.3 404.36 811.85 406.25 812.39 398.05 812.93 405.39 813.48 398.55 814.02 398.71 814.56 397.43 815.11 403.2 815.65 399.92 816.19 403.75 816.74 395.55 817.28 398.44 817.82 403.13 818.37 403.97 818.91 398.65 819.45 407.45 820 398.35 820.54 400.71 821.08 396.79 821.63 398.74 822.17 393.75 822.71 406.25 823.26 398.98 823.8 406.16 824.34 407.85 824.89 408.75 825.43 397.45 825.97 412.16 826.52 409.59 827.06 418.65 827.6 407.95 828.15 411.5 828.69 409.31 829.23 419.85 829.78 409.15 830.32 414.28 830.86 410.45 831.41 414.95 831.95 409.75 832.49 413.65 833.04 407.35" stroke="#f781bf" stroke-width="1.75" fill="none" stroke-linejoin="round"/>
<rect x="590.55" y="268.45" width="254.35" height="203.65" fill="none" stroke="#333" stroke-width="1.1"/>
<path d="M602.1 472.1v3.6M634.88 472.1v3.6M668.21 472.1v3.6M701 472.1v3.6M734.5 472.1v3.6M767.29 472.1v3.6M800.62 472.1v3.6M833.4 472.1v3.6M590.55 463.5h-3.6M590.55 428.21h-3.6M590.55 392.92h-3.6M590.55 357.63h-3.6M590.55 322.34h-3.6M590.55 287.05h-3.6" stroke="#333" stroke-width="1.2" fill="none"/>
<text x="717.73" y="258.4" font-size="12.4" font-weight="bold" text-anchor="middle" textLength="55.8" lengthAdjust="spacingAndGlyphs" fill="#000">Surprise</text>
<text transform="translate(601.3 491.7) rotate(-45)" x="0" y="2.5" font-size="7.3" text-anchor="middle" textLength="28.0" lengthAdjust="spacingAndGlyphs" fill="#262626" stroke="#262626" stroke-width="0.25">2019-01</text>
<text transform="translate(634.08 491.7) rotate(-45)" x="0" y="2.5" font-size="7.3" text-anchor="middle" textLength="28.0" lengthAdjust="spacingAndGlyphs" fill="#262626" stroke="#262626" stroke-width="0.25">2019-07</text>
<text transform="translate(667.41 491.7) rotate(-45)" x="0" y="2.5" font-size="7.3" text-anchor="middle" textLength="28.0" lengthAdjust="spacingAndGlyphs" fill="#262626" stroke="#262626" stroke-width="0.25">2020-01</text>
<text transform="translate(700.2 491.7) rotate(-45)" x="0" y="2.5" font-size="7.3" text-anchor="middle" textLength="28.0" lengthAdjust="spacingAndGlyphs" fill="#262626" stroke="#262626" stroke-width="0.25">2020-07</text>
<text transform="translate(733.7 491.7) rotate(-45)" x="0" y="2.5" font-size="7.3" text-anchor="middle" textLength="28.0" lengthAdjust="spacingAndGlyphs" fill="#262626" stroke="#262626" stroke-width="0.25">2021-01</text>
<text transform="translate(766.49 491.7) rotate(-45)" x="0" y="2.5" font-size="7.3" text-anchor="middle" textLength="28.0" lengthAdjust="spacingAndGlyphs" fill="#262626" stroke="#262626" stroke-width="0.25">2021-07</text>
<text transform="translate(799.82 491.7) rotate(-45)" x="0" y="2.5" font-size="7.3" text-anchor="middle" textLength="28.0" lengthAdjust="spacingAndGlyphs" fill="#262626" stroke="#262626" stroke-width="0.25">2022-01</text>
<text transform="translate(832.6 491.7) rotate(-45)" x="0" y="2.5" font-size="7.3" text-anchor="middle" textLength="28.0" lengthAdjust="spacingAndGlyphs" fill="#262626" stroke="#262626" stroke-width="0.25">2022-07</text>
<text x="568.5" y="516.2" font-size="12.4" text-anchor="middle" textLength="28.3" lengthAdjust="spacingAndGlyphs" fill="#000">Date</text>
<text transform="translate(12.0 288.9) rotate(-90)" x="0" y="0" font-size="12.4" text-anchor="start" textLength="104.8" lengthAdjust="spacingAndGlyphs" fill="#000">Emotion Intensity</text>
<rect x="1156" y="523.5" width="9" height="1.5" fill="#e2e2e2"/>
</svg></body></html>
